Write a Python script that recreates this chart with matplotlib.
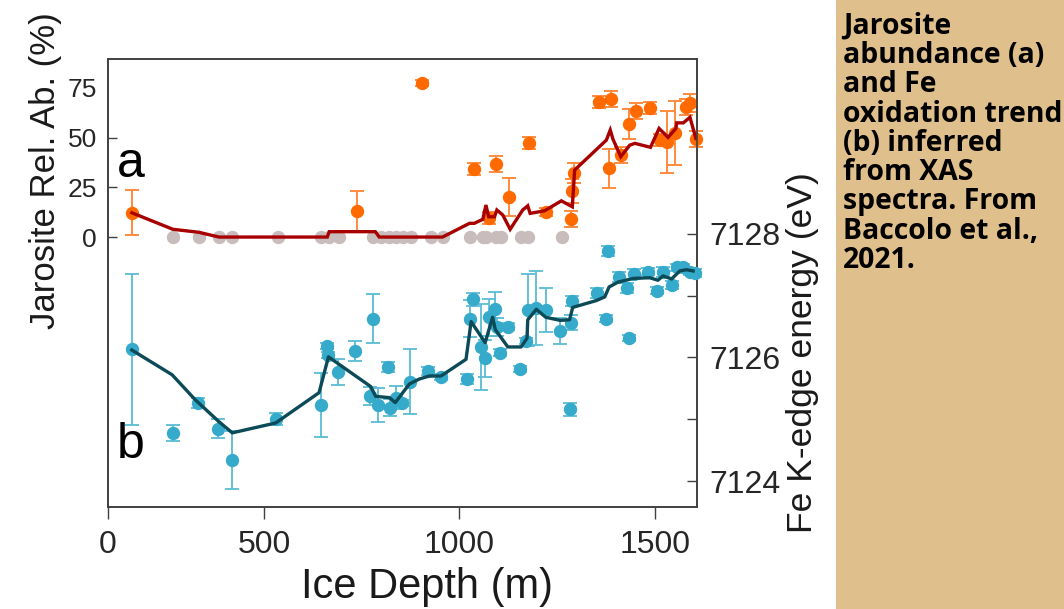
import matplotlib
matplotlib.use("Agg")
import matplotlib.pyplot as plt
from matplotlib.patches import Rectangle
from matplotlib.ticker import FixedLocator, FixedFormatter

plt.rcParams['font.family'] = ['Liberation Sans', 'DejaVu Sans']

# ---- Panel (a): jarosite relative abundance (%) ----
zero_depth = [267, 333, 385, 419, 535, 645, 667, 692, 778, 799, 821, 838,
              855, 876, 927, 957, 1026, 1060, 1068, 1094, 1107, 1158, 1175, 1262]

jar_depth = [162, 737, 904, 1038, 1077, 1094, 1128, 1179, 1222, 1286, 1289,
             1293, 1357, 1383, 1387, 1413, 1434, 1451, 1487, 1513, 1530,
             1551, 1579, 1590, 1605]
jar_value = [12.2, 13.2, 77.5, 34.0, 9.4, 36.7, 20.3, 47.1, 12.7, 8.9, 23.3,
             32.3, 68.0, 34.5, 69.2, 41.2, 56.8, 63.5, 65.0, 48.7, 47.9,
             52.4, 65.5, 67.2, 49.2]
jar_err = [11.3, 10.0, 1.5, 3.0, 3.0, 4.0, 9.5, 3.0, 2.0, 4.0, 6.0,
           5.0, 3.0, 10.0, 4.0, 4.0, 7.5, 4.0, 3.0, 3.0, 15.5,
           16.0, 4.0, 4.5, 4.0]

jar_trend_depth = [162, 267, 333, 385, 662, 667, 785, 795, 957, 1026, 1038,
                   1060, 1068, 1075, 1090, 1096, 1111, 1130, 1162, 1175, 1181,
                   1218, 1261, 1289, 1295, 1376, 1386, 1393, 1413, 1436, 1449,
                   1489, 1511, 1534, 1554, 1556, 1573, 1590, 1605]
jar_trend_value = [12.2, 3.9, 2.4, 0, 0, 2.7, 2.7, 0, 0, 6.9, 6.9,
                   8.9, 16.1, 10.2, 10.2, 13.6, 11.1, 3.9, 13.6, 15.7, 11.9,
                   13.2, 18.2, 15.2, 33.7, 48.7, 53.8, 49.2, 40.4, 46.2, 47.1,
                   45.1, 54.6, 50.1, 54.6, 57.4, 57.4, 60.2, 49.6]

# ---- Panel (b): Fe K-edge energy (eV) ----
fe_depth = [162, 267, 332, 382, 419, 532, 645, 661, 665, 690, 733, 780, 771,
            793, 818, 823, 838, 852, 874, 921, 953, 1019, 1027, 1034, 1056,
            1066, 1075, 1090, 1096, 1105, 1124, 1156, 1171, 1175, 1197, 1221,
            1258, 1282, 1286, 1289, 1353, 1374, 1380, 1408, 1430, 1434, 1446,
            1483, 1506, 1521, 1545, 1556, 1573, 1590, 1603]
fe_energy = [7126.13, 7124.77, 7125.26, 7124.85, 7124.34, 7125.00, 7125.23,
             7126.19, 7126.04, 7125.77, 7126.11, 7126.63, 7125.38, 7125.23,
             7125.85, 7125.19, 7125.35, 7125.26, 7125.61, 7125.78, 7125.68,
             7125.65, 7126.63, 7126.94, 7126.17, 7125.99, 7126.65, 7126.78,
             7126.49, 7126.08, 7126.50, 7125.81, 7126.27, 7126.77, 7126.80,
             7126.77, 7126.43, 7125.16, 7126.56, 7126.92, 7127.04, 7126.63,
             7127.73, 7127.30, 7127.12, 7126.32, 7127.35, 7127.39, 7127.08,
             7127.39, 7127.17, 7127.46, 7127.47, 7127.39, 7127.37]
fe_err = [1.22, 0.13, 0.08, 0.16, 0.47, 0.10, 0.52, 0.05, 0.05, 0.21, 0.16,
          0.40, 0.15, 0.28, 0.08, 0.13, 0.19, 0.05, 0.53, 0.06, 0.05, 0.08,
          0.30, 0.10, 0.70, 0.30, 0.30, 0.28, 0.15, 0.05, 0.05, 0.05, 0.05,
          0.58, 0.60, 0.36, 0.21, 0.10, 0.12, 0.08, 0.08, 0.06, 0.08, 0.08,
          0.08, 0.05, 0.08, 0.06, 0.06, 0.08, 0.06, 0.06, 0.05, 0.05, 0.06]

fe_trend_depth = [162, 265, 325, 385, 419, 530, 641, 665, 773, 786, 821, 836,
                  872, 897, 923, 953, 1017, 1030, 1066, 1085, 1092, 1124, 1158,
                  1173, 1175, 1197, 1221, 1258, 1282, 1290, 1350, 1372, 1383,
                  1406, 1446, 1487, 1508, 1521, 1543, 1564, 1581, 1598]
fe_trend_energy = [7126.12, 7125.72, 7125.31, 7124.96, 7124.78, 7124.94,
                   7125.43, 7126.01, 7125.53, 7125.37, 7125.35, 7125.27,
                   7125.57, 7125.65, 7125.70, 7125.70, 7125.97, 7126.58,
                   7126.24, 7126.65, 7126.45, 7126.17, 7126.17, 7126.31,
                   7126.61, 7126.78, 7126.65, 7126.60, 7126.61, 7126.81,
                   7126.92, 7126.98, 7127.14, 7127.22, 7127.28, 7127.29,
                   7127.25, 7127.32, 7127.27, 7127.40, 7127.42, 7127.40]

depth_ticks = [101, 500, 1000, 1500]
depth_tick_labels = ['0', '500', '1000', '1500']
jar_ticks = [0, 25, 50, 75]
fe_ticks = [7124, 7125, 7126, 7127, 7128]
fe_tick_labels = ['7124', '', '7126', '', '7128']

caption_lines = ["Jarosite", "abundance (a)", "and Fe", "oxidation trend",
                 "(b) inferred", "from XAS", "spectra. From",
                 "Baccolo et al.,", "2021."]

# ---- colours ----
ORANGE = '#FF6A00'
ORANGE_ERR = '#FF8A3D'
GREY = '#C8BCBC'
DARK_RED = '#A80000'
BLUE = '#36AACB'
BLUE_ERR = '#5BBCD6'
TEAL = '#0B4A56'
SPINE = '#404040'
TICK_TXT = '#262626'

W, H = 1064, 609
fig = plt.figure(figsize=(W / 100, H / 100), dpi=100)
fig.patch.set_facecolor('white')

# caption panel on the right
fig.patches.append(Rectangle((836 / W, 0), 1 - 836 / W, 1,
                             transform=fig.transFigure,
                             facecolor='#DFBF8B', edgecolor='none', zorder=0))

ax_l, ax_r, ax_t, ax_b = 108, 697, 59, 507
ax = fig.add_axes([ax_l / W, 1 - ax_b / H, (ax_r - ax_l) / W, (ax_b - ax_t) / H])
ax2 = ax.twinx()

# (a) jarosite
ax.plot(zero_depth, [0] * len(zero_depth), 'o', ms=8.6, color=GREY,
        mec=GREY, zorder=2)
ax.errorbar(jar_depth, jar_value, yerr=jar_err, fmt='o', ms=8.6,
            mfc=ORANGE, mec=ORANGE, ecolor=ORANGE_ERR, elinewidth=1.4,
            capsize=5, capthick=1.4, zorder=3, clip_on=False)
ax.plot(jar_trend_depth, jar_trend_value, '-', color=DARK_RED, lw=2.4,
        zorder=4, solid_joinstyle='miter')

# (b) Fe K-edge
ax2.errorbar(fe_depth, fe_energy, yerr=fe_err, fmt='o', ms=8.6,
             mfc=BLUE, mec=BLUE, ecolor=BLUE_ERR, elinewidth=1.3,
             capsize=5, capthick=1.3, zorder=3, clip_on=False)
ax2.plot(fe_trend_depth, fe_trend_energy, '-', color=TEAL, lw=2.4, zorder=4)

ax.set_xlim(101, 1608)
ax.set_ylim(-135.7, 89.5)
ax2.set_ylim(7123.58, 7130.83)

ax.set_xticks(depth_ticks)
ax.set_xticklabels(depth_tick_labels)
ax.set_yticks(jar_ticks)
ax.set_yticklabels([str(v) for v in jar_ticks])
ax2.yaxis.set_major_locator(FixedLocator(fe_ticks))
ax2.yaxis.set_major_formatter(FixedFormatter(fe_tick_labels))

ax.tick_params(axis='x', direction='out', length=8.5, width=1.0,
               color=SPINE, labelsize=23, pad=8, labelcolor=TICK_TXT)
ax.tick_params(axis='y', direction='in', length=6.5, width=1.0,
               color=SPINE, labelsize=19, pad=8, labelcolor=TICK_TXT,
               right=False)
ax2.tick_params(axis='y', direction='in', length=7, width=1.0,
                color=SPINE, labelsize=23, pad=9, labelcolor=TICK_TXT,
                left=False)
# no tick mark at 75
ax.yaxis.get_major_ticks()[-1].tick1line.set_visible(False)

for a in (ax, ax2):
    for s in a.spines.values():
        s.set_color(SPINE)
        s.set_linewidth(1.2)

ax.set_xlabel('Ice Depth (m)', fontsize=30, color='#1a1a1a')
ax.xaxis.set_label_coords((427 - ax_l) / (ax_r - ax_l), (ax_b - 567) / (ax_b - ax_t))
ax.set_ylabel('Jarosite Rel. Ab. (%)', fontsize=25, color='#1a1a1a')
ax.yaxis.set_label_coords((62 - ax_l) / (ax_r - ax_l), (ax_b - 171) / (ax_b - ax_t))
ax2.set_ylabel('Fe K-edge energy (eV)', fontsize=25.5, color='#1a1a1a')
ax2.yaxis.set_label_coords((786 - ax_l) / (ax_r - ax_l), (ax_b - 353) / (ax_b - ax_t))

ax.text(0.0153, (ax_b - 177) / (ax_b - ax_t), 'a', transform=ax.transAxes,
        fontsize=36, va='baseline', ha='left', color='black')
ax.text(0.0153, (ax_b - 458) / (ax_b - ax_t), 'b', transform=ax.transAxes,
        fontsize=36, va='baseline', ha='left', color='black')

fig.text(843 / W, 1 - 12 / H, '\n'.join(caption_lines),
         family=['Open Sans', 'DejaVu Sans'], fontweight='bold', fontsize=20.4,
         color='black', ha='left', va='top', linespacing=1.01)

fig.savefig('out.png', dpi=100, facecolor=fig.get_facecolor())
